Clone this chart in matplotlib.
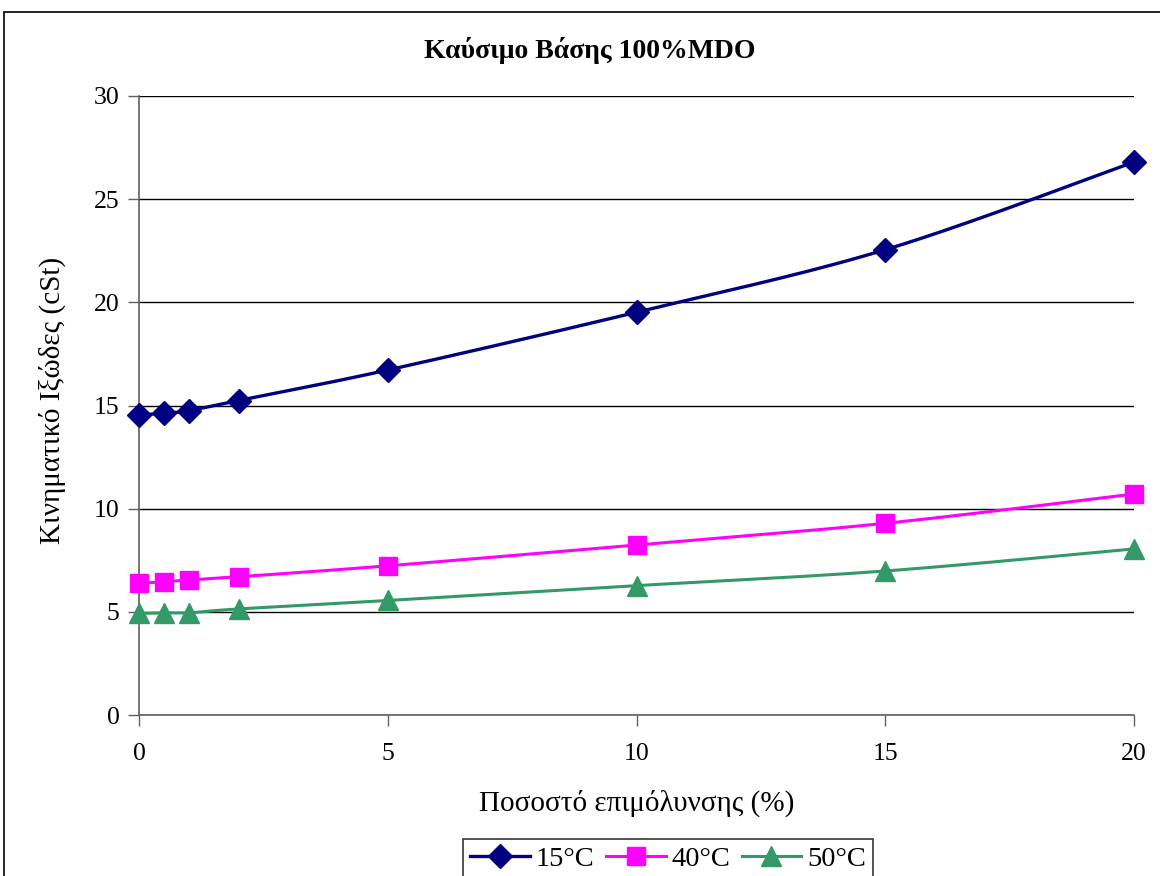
import numpy as np
import matplotlib
matplotlib.use("Agg")
import matplotlib.pyplot as plt
from matplotlib.patches import Rectangle

# Contamination percentage and kinematic viscosity (cSt) at three temperatures
contamination = [0, 0.5, 1, 2, 5, 10, 15, 20]
visc_15 = [14.54, 14.62, 14.75, 15.24, 16.72, 19.52, 22.55, 26.8]
visc_40 = [6.38, 6.46, 6.54, 6.70, 7.23, 8.24, 9.29, 10.71]
visc_50 = [4.92, 4.95, 4.95, 5.14, 5.55, 6.27, 6.98, 8.05]

series_labels = ["15°C", "40°C", "50°C"]
title = "Καύσιμο Βάσης 100%MDO"
xlabel = "Ποσοστό επιμόλυνσης (%)"
ylabel = "Κινηματικό Ιξώδες (cSt)"
xticks = [0, 5, 10, 15, 20]
yticks = [0, 5, 10, 15, 20, 25, 30]

plt.rcParams["font.family"] = ["Liberation Serif", "DejaVu Serif"]


def smooth_curve(x, y, n=30):
    """Bezier smoothing through the points (control points from neighbours)."""
    x = np.asarray(x, float)
    y = np.asarray(y, float)
    pts = np.column_stack([x, y])
    out = [pts[0]]
    t = np.linspace(0, 1, n)[1:]
    for i in range(len(pts) - 1):
        p0 = pts[i - 1] if i > 0 else pts[i]
        p1 = pts[i]
        p2 = pts[i + 1]
        p3 = pts[i + 2] if i + 2 < len(pts) else pts[i + 1]
        c1 = p1 + (p2 - p0) / 6.0
        c2 = p2 - (p3 - p1) / 6.0
        seg = ((1 - t) ** 3)[:, None] * p1 + (3 * (1 - t) ** 2 * t)[:, None] * c1 \
            + (3 * (1 - t) * t ** 2)[:, None] * c2 + (t ** 3)[:, None] * p2
        out.extend(seg)
    out = np.array(out)
    return out[:, 0], out[:, 1]


fig = plt.figure(figsize=(11.6, 8.76), dpi=100)
ax = fig.add_axes([139 / 1160, 1 - 715 / 876, 995 / 1160, 619 / 876])

# outer chart frame
fig.patches.append(Rectangle((4 / 1160, -0.05), 1.1, 1 - 12 / 876 + 0.05,
                             transform=fig.transFigure, fill=False,
                             edgecolor="black", linewidth=1.2))

styles = [
    (visc_15, "#000080", "D", 12, 2.4),
    (visc_40, "#FF00FF", "s", 12.5, 2.2),
    (visc_50, "#339966", "^", 14, 2.2),
]
handles = []
for (vals, color, marker, ms, lw), label in zip(styles, series_labels):
    sx, sy = smooth_curve(contamination, vals)
    ax.plot(sx, sy, color=color, linewidth=lw, zorder=3)
    ax.plot(contamination, vals, linestyle="none", marker=marker, markersize=ms,
            color=color, markeredgecolor=color, zorder=4, clip_on=False)
    h, = ax.plot([], [], color=color, linewidth=lw, marker=marker,
                 markersize=ms, markeredgecolor=color, label=label)
    handles.append(h)

ax.set_xlim(0, 20)
ax.set_ylim(0, 30)
ax.set_xticks(xticks)
ax.set_yticks(yticks)
ax.tick_params(axis="both", direction="out", length=8, width=1, color="#606060",
               labelsize=18.5, pad=6)
ax.tick_params(axis="x", pad=12)
ax.yaxis.grid(True, color="black", linewidth=1)
ax.set_axisbelow(True)
for s in ["top", "right"]:
    ax.spines[s].set_visible(False)
for s in ["left", "bottom"]:
    ax.spines[s].set_color("#606060")
    ax.spines[s].set_linewidth(1.2)

fig.text(590 / 1160, 1 - 50 / 876, title, ha="center", va="center",
         fontsize=20, fontweight="bold")
fig.text(637 / 1160, 1 - 803 / 876, xlabel, ha="center", va="center", fontsize=21)
fig.text(52 / 1160, 1 - 400 / 876, ylabel, ha="center", va="center",
         rotation=90, fontsize=21)

leg = fig.legend(handles=handles, loc="upper center", ncol=3,
                 bbox_to_anchor=(668 / 1160, 1 - 839 / 876),
                 bbox_transform=fig.transFigure, fontsize=20.5, frameon=True,
                 fancybox=False, edgecolor="black", handlelength=2.1,
                 handletextpad=0.2, columnspacing=0.4, borderpad=0.25,
                 borderaxespad=0)
leg.get_frame().set_linewidth(1.2)

fig.savefig("out.png", dpi=100)
